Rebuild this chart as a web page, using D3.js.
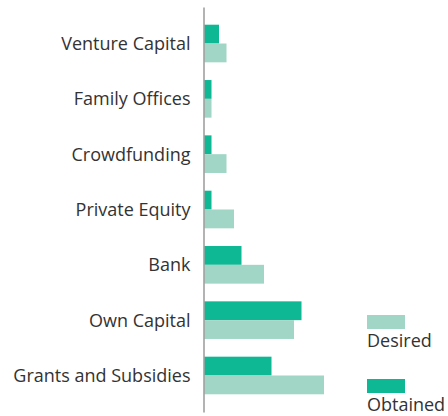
<!DOCTYPE html>
<html><head><meta charset="utf-8">
<script src="https://cdn.jsdelivr.net/npm/d3@7"></script>
<style>html,body{margin:0;padding:0;background:#fff;}svg{display:block;}</style>
</head><body>
<svg id="chart" width="448" height="416"></svg>
<script>
const categories = ["Venture Capital","Family Offices","Crowdfunding","Private Equity","Bank","Own Capital","Grants and Subsidies"];
const obtained = [2,1,1,1,5,13,9];
const desired  = [3,1,3,4,8,12,16];
const seriesNames = ["Obtained","Desired"];
const legendNames = ["Desired","Obtained"];
const colors = {Obtained:"#0fb895", Desired:"#a1d6c6"};

const svg = d3.select("#chart");
const font = "'Open Sans', sans-serif";
const axisX = 203.5;

const y = d3.scaleBand().domain(categories).range([7, 412]).paddingInner(0.32).paddingOuter(0.32);
const ySub = d3.scaleBand().domain(seriesNames).range([0, y.bandwidth()]);
const x = d3.scaleLinear().domain([0, 16]).range([204, 324]);

const data = categories.map((c,i)=>({cat:c, Obtained:obtained[i], Desired:desired[i]}));

const g = svg.append("g");
data.forEach(d=>{
  seriesNames.forEach(s=>{
    g.append("rect")
      .attr("x", x(0))
      .attr("y", y(d.cat) + ySub(s))
      .attr("width", x(d[s]) - x(0))
      .attr("height", ySub.bandwidth())
      .attr("fill", colors[s]);
  });
});

// axis
const yAxis = d3.axisLeft(y).tickSize(0).tickPadding(13);
const ag = svg.append("g").attr("transform", `translate(${axisX},0)`).call(yAxis);
ag.select(".domain").attr("stroke", "#a0a0a0").attr("stroke-width", 1.6);
ag.selectAll("text").attr("font-family", font).attr("font-size", 18).attr("fill", "#333").attr("dy","0.36em");

// legend
const lg = svg.append("g").attr("transform","translate(367,315)");
legendNames.forEach((n,i)=>{
  const row = lg.append("g").attr("transform", `translate(0,${i*64})`);
  row.append("rect").attr("width",38).attr("height",14).attr("fill",colors[n]);
  row.append("text").attr("x",0).attr("y",32).attr("font-family",font).attr("font-size",18).attr("fill","#333").text(n);
});
</script>
</body></html>
